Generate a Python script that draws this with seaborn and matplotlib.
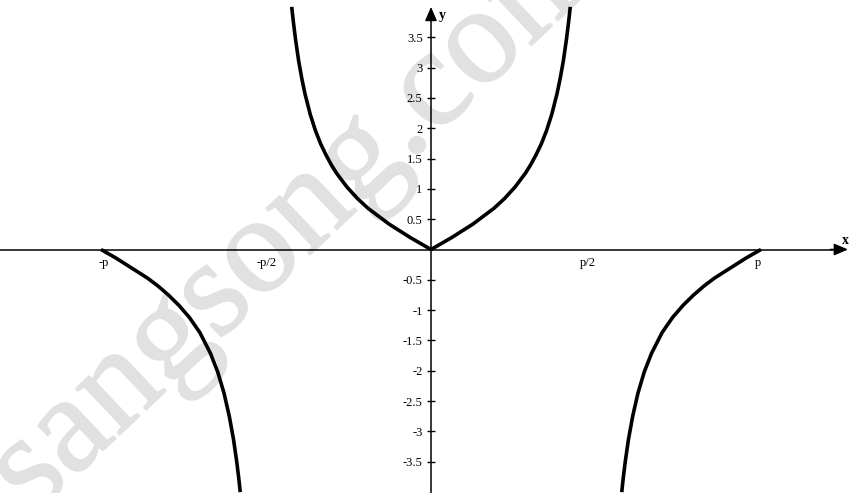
import matplotlib
matplotlib.use("Agg")
import matplotlib.pyplot as plt
import matplotlib.patheffects as pe
import seaborn as sns

# Graph of y = tan|x| on [-p, p], clipped at |y| = 4
upper_right_x = [0.00, 0.10, 0.20, 0.30, 0.40, 0.50, 0.60, 0.70, 0.80, 0.90, 0.95,
                 1.00, 1.05, 1.10, 1.15, 1.20, 1.23, 1.26, 1.29, 1.31, 1.326]
upper_right_y = [0.00, 0.10, 0.20, 0.31, 0.42, 0.55, 0.68, 0.84, 1.03, 1.26, 1.40,
                 1.56, 1.74, 1.96, 2.23, 2.57, 2.82, 3.11, 3.47, 3.75, 4.00]

upper_left_x = [0.00, -0.10, -0.20, -0.30, -0.40, -0.50, -0.60, -0.70, -0.80, -0.90, -0.95,
                -1.00, -1.05, -1.10, -1.15, -1.20, -1.23, -1.26, -1.29, -1.31, -1.326]
upper_left_y = [0.00, 0.10, 0.20, 0.31, 0.42, 0.55, 0.68, 0.84, 1.03, 1.26, 1.40,
                1.56, 1.74, 1.96, 2.23, 2.57, 2.82, 3.11, 3.47, 3.75, 4.00]

lower_right_x = [1.816, 1.83, 1.85, 1.88, 1.92, 1.97, 2.03, 2.10, 2.20, 2.30, 2.40,
                 2.50, 2.60, 2.70, 2.80, 2.90, 3.00, 3.1416]
lower_right_y = [-4.00, -3.77, -3.49, -3.13, -2.75, -2.37, -2.02, -1.71, -1.37, -1.12, -0.92,
                 -0.75, -0.60, -0.47, -0.36, -0.25, -0.14, 0.00]

lower_left_x = [-1.816, -1.83, -1.85, -1.88, -1.92, -1.97, -2.03, -2.10, -2.20, -2.30, -2.40,
                -2.50, -2.60, -2.70, -2.80, -2.90, -3.00, -3.1416]
lower_left_y = [-4.00, -3.77, -3.49, -3.13, -2.75, -2.37, -2.02, -1.71, -1.37, -1.12, -0.92,
                -0.75, -0.60, -0.47, -0.36, -0.25, -0.14, 0.00]

ytick_values = [-3.5, -3, -2.5, -2, -1.5, -1, -0.5, 0.5, 1, 1.5, 2, 2.5, 3, 3.5]
ytick_labels = ["-3.5", "-3", "-2.5", "-2", "-1.5", "-1", "-0.5",
                "0.5", "1", "1.5", "2", "2.5", "3", "3.5"]

xlabel_values = [-3.12, -1.565, 1.495, 3.113]
xlabel_texts = ["-p", "-p/2", "p/2", "p"]

sns.set_theme(style="white")
plt.rcParams["font.family"] = ["Liberation Serif", "DejaVu Serif"]
plt.rcParams["axes.unicode_minus"] = False

fig = plt.figure(figsize=(8.52, 4.93), dpi=100)
ax = fig.add_axes([0, 0, 1, 1])
ax.set_facecolor("white")
ax.set_xlim(-4.103, 4.008)
ax.set_ylim(-4.014, 4.113)

# faint site watermark behind the graph
ax.text(0.376, 0.503, "sangsong.com", transform=ax.transAxes, rotation=43.4,
        rotation_mode="anchor", ha="center", va="baseline", fontsize=100,
        fontweight="normal", color="#e1e1e1", zorder=0,
        path_effects=[pe.withStroke(linewidth=1.2, foreground="#e1e1e1")])

# curves
for bx, by in [(upper_left_x, upper_left_y), (upper_right_x, upper_right_y),
               (lower_left_x, lower_left_y), (lower_right_x, lower_right_y)]:
    sns.lineplot(x=bx, y=by, ax=ax, sort=False, estimator=None, color="black",
                 linewidth=2.6, solid_joinstyle="round", solid_capstyle="butt", zorder=4)

# axes through the origin
for side in ["top", "right"]:
    ax.spines[side].set_visible(False)
ax.spines["left"].set_position(("data", 0))
ax.spines["bottom"].set_position(("data", 0))
ax.spines["left"].set_bounds(-4.1, 3.9)
ax.spines["bottom"].set_bounds(-4.2, 3.9)
for side in ["left", "bottom"]:
    ax.spines[side].set_color("black")
    ax.spines[side].set_linewidth(1.1)
    ax.spines[side].set_zorder(3)

arrow = dict(arrowstyle="-|>,head_length=0.7,head_width=0.3", color="black",
             lw=1.1, shrinkA=0, shrinkB=0)
ax.annotate("", xy=(0, 4.0), xytext=(0, 3.8), arrowprops=arrow, zorder=3)
ax.annotate("", xy=(3.97, 0), xytext=(3.8, 0), arrowprops=arrow, zorder=3)

ax.set_yticks(ytick_values, ytick_labels)
ax.set_xticks([])
ax.tick_params(axis="y", direction="inout", length=6, width=1.0, pad=3,
               labelsize=9, colors="black", left=True)
ax.grid(False)

for xv, lab in zip(xlabel_values, xlabel_texts):
    ax.text(xv, -0.23, lab, ha="center", va="center", fontsize=9, color="black")

ax.text(0.105, 3.85, "y", ha="center", va="center", fontsize=10,
        fontweight="bold", color="black")
ax.text(3.95, 0.15, "x", ha="center", va="center", fontsize=10,
        fontweight="bold", color="black")

fig.savefig("out.png", dpi=100)
